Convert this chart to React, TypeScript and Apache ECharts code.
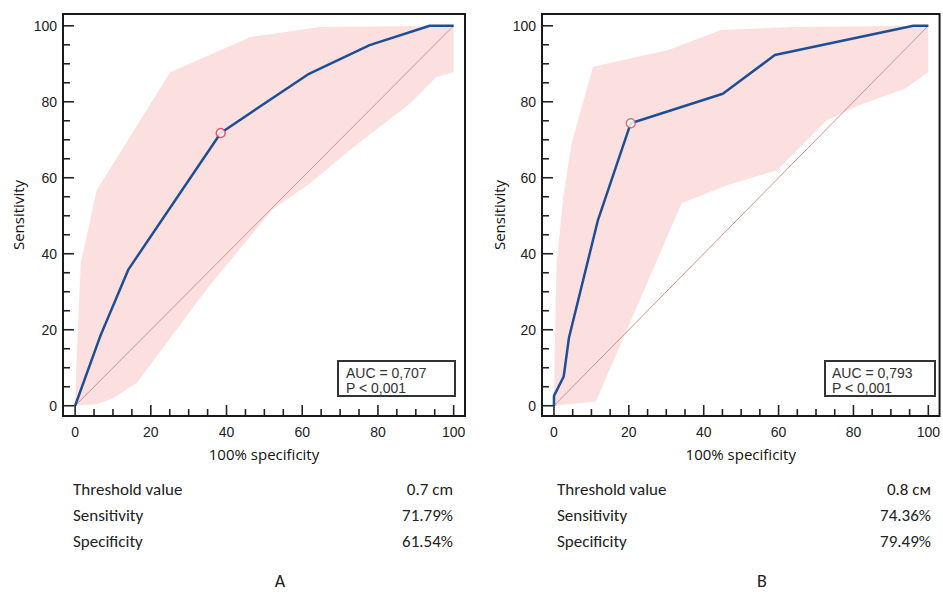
import React, { useEffect, useRef } from "react";
import * as echarts from "echarts";

// ---------- data ----------
const majorTicks = [0, 20, 40, 60, 80, 100];
const minorTicks = [5, 10, 15, 25, 30, 35, 45, 50, 55, 65, 70, 75, 85, 90, 95];

// Panel A (x = 100 - specificity, y = sensitivity)
const rocA: number[][] = [[0, 0], [6.6, 18.2], [14.1, 35.9], [38.46, 71.79], [61.5, 87.2], [77.8, 94.9], [93.7, 100], [100, 100]];
const upperA: number[][] = [[0, 0], [0.3, 10], [1.5, 37.5], [5.7, 56.7], [25.1, 87.8], [46.2, 97.0], [64.6, 99.7], [100, 100]];
const lowerA: number[][] = [[0, 0], [5.7, 0.4], [10, 2], [16.3, 6.0], [35, 31], [52, 51.5], [62, 58.5], [72.6, 67.3], [88.4, 79.5], [95.4, 86.5], [100, 87.8]];
const cutoffA: number[][] = [[38.46, 71.79]];

// Panel B
const rocB: number[][] = [[0, 0], [0, 2.6], [2.6, 7.7], [4, 17.9], [11.7, 48.7], [20.51, 74.36], [45.1, 82.1], [59, 92.3], [96, 100], [100, 100]];
const upperB: number[][] = [[0, 0], [0.3, 20], [0.7, 37.5], [2.5, 55], [4.7, 69], [10.4, 89.2], [30.6, 93.6], [44.6, 98.9], [64, 99.7], [100, 100]];
const lowerB: number[][] = [[0, 0], [11.2, 1.1], [34.1, 53.3], [46.4, 58.1], [59.6, 62.0], [72.8, 75.1], [81.5, 79.1], [93.9, 83.5], [100, 87.8]];
const cutoffB: number[][] = [[20.51, 74.36]];

const diagonal: number[][] = [[0, 0], [100, 100]];

const aucTexts = ["AUC = 0,707\nP < 0,001", "AUC = 0,793\nP < 0,001"];
const tableLabels = ["Threshold value", "Sensitivity", "Specificity"];
const tableA = ["0.7 cm", "71.79%", "61.54%"];
const tableB = ["0.8 см", "74.36%", "79.49%"];
const panelLabels = ["A", "B"];

// ---------- layout ----------
const X_MIN = -3.2, X_MAX = 103;
const Y_MIN = -2.7, Y_MAX = 103.1;
const X_EDGE = -2.95, Y_EDGE = -2.45; // just inside the frame
const grids = [
  { left: 63, top: 14, width: 402, height: 402 },
  { left: 542, top: 14, width: 402, height: 402 },
];
const AXIS_FONT = "'Liberation Sans', Arial, sans-serif";
const NAME_FONT = "'Open Sans', 'Noto Sans', sans-serif";
const TABLE_FONT = "Carlito, Lato, sans-serif";

function buildGraphic(): any[] {
  const graphic: any[] = [];
  const boxes = [
    { x: 338, y: 361, w: 117, h: 35, tx: 346 },
    { x: 825, y: 361, w: 110, h: 35, tx: 832 },
  ];
  boxes.forEach((b, i) => {
    graphic.push({
      type: "rect", z: 50, shape: { x: b.x, y: b.y, width: b.w, height: b.h },
      style: { fill: "#ffffff", stroke: "#333", lineWidth: 2 },
    });
    graphic.push({
      type: "text", z: 51, x: b.tx, y: 380.5,
      style: { text: aucTexts[i], fontFamily: AXIS_FONT, fontSize: 14, lineHeight: 15.5, fill: "#333", align: "left", verticalAlign: "middle", textAlign: "left", textVerticalAlign: "middle" },
    });
  });
  const tables = [
    { lx: 73, rx: 453, vals: tableA, cx: 280 },
    { lx: 557, rx: 931, vals: tableB, cx: 762 },
  ];
  tables.forEach((t, i) => {
    tableLabels.forEach((lab, r) => {
      const y = 489 + r * 26;
      graphic.push({
        type: "text", x: t.lx, y,
        style: { text: lab, fontFamily: TABLE_FONT, fontSize: 17, fill: "#222", align: "left", verticalAlign: "middle", textAlign: "left", textVerticalAlign: "middle" },
      });
      graphic.push({
        type: "text", x: t.rx, y,
        style: { text: t.vals[r], fontFamily: TABLE_FONT, fontSize: 17, fill: "#222", align: "right", verticalAlign: "middle", textAlign: "right", textVerticalAlign: "middle" },
      });
    });
    graphic.push({
      type: "text", x: t.cx, y: 581,
      style: { text: panelLabels[i], fontFamily: TABLE_FONT, fontSize: 18, fill: "#222", align: "center", verticalAlign: "middle", textAlign: "center", textVerticalAlign: "middle" },
    });
  });
  return graphic;
}

function tickSeries(g: number, values: number[], len: number): any[] {
  const common = {
    type: "scatter", xAxisIndex: g, yAxisIndex: g, symbol: "rect", silent: true, clip: false, z: 10,
    itemStyle: { color: "#222", opacity: 1 }, emphasis: { disabled: true },
  };
  return [
    { ...common, data: values.map((v) => [v, Y_EDGE]), symbolSize: [1.6, len], symbolOffset: [0, -len / 2] },
    { ...common, data: values.map((v) => [X_EDGE, v]), symbolSize: [len, 1.6], symbolOffset: [len / 2, 0] },
  ];
}

function buildOption() {
  const xAxis: any[] = [];
  const yAxis: any[] = [];
  grids.forEach((_, g) => {
    xAxis.push({
      type: "value", gridIndex: g, min: X_MIN, max: X_MAX, position: "bottom",
      axisLine: { show: false, onZero: false }, splitLine: { show: false }, axisTick: { show: false },
      axisLabel: { customValues: majorTicks, margin: 9, fontFamily: AXIS_FONT, fontSize: 14, color: "#222" },
      name: "100% specificity", nameLocation: "middle", nameGap: 30,
      nameTextStyle: { fontFamily: NAME_FONT, fontSize: 15, color: "#111" },
    });
    yAxis.push({
      type: "value", gridIndex: g, min: Y_MIN, max: Y_MAX, position: "left",
      axisLine: { show: false, onZero: false }, splitLine: { show: false }, axisTick: { show: false },
      axisLabel: { customValues: majorTicks, margin: 6, fontFamily: AXIS_FONT, fontSize: 14, color: "#222" },
      name: "Sensitivity", nameLocation: "middle", nameGap: g === 0 ? 38 : 36,
      nameTextStyle: { fontFamily: NAME_FONT, fontSize: 15, color: "#111" },
    });
  });

  const panels = [
    { roc: rocA, upper: upperA, lower: lowerA, cut: cutoffA, cutColor: "#e3304a" },
    { roc: rocB, upper: upperB, lower: lowerB, cut: cutoffB, cutColor: "#c95a52" },
  ];
  const series: any[] = [];
  panels.forEach((p, g) => {
    const poly = [...p.upper, ...p.lower.slice().reverse()];
    series.push({
      type: "custom", xAxisIndex: g, yAxisIndex: g, data: poly, silent: true, z: 1,
      renderItem: (params: any, api: any) => {
        if (params.dataIndex !== 0) return null;
        const pts = poly.map((pt) => api.coord(pt));
        return { type: "polygon", shape: { points: pts }, style: { fill: "#fce0df" } };
      },
    });
    series.push({
      type: "line", xAxisIndex: g, yAxisIndex: g, data: diagonal, showSymbol: false, silent: true, z: 2,
      lineStyle: { color: "#c99391", width: 1 },
    });
    series.push({
      type: "line", xAxisIndex: g, yAxisIndex: g, data: p.roc, showSymbol: false, silent: true, z: 3,
      lineStyle: { color: "#1e4f95", width: 2.5 },
    });
    series.push({
      type: "scatter", xAxisIndex: g, yAxisIndex: g, data: p.cut, symbol: "circle", symbolSize: 9, silent: true, z: 4,
      itemStyle: { color: "#ffffff", borderColor: p.cutColor, borderWidth: 1.5 },
    });
    series.push(...tickSeries(g, majorTicks, 10));
    series.push(...tickSeries(g, minorTicks, 6));
  });

  return {
    animation: false,
    backgroundColor: "#ffffff",
    grid: grids.map((g) => ({ ...g, show: true, borderColor: "#1a1a1a", borderWidth: 2, containLabel: false })),
    xAxis,
    yAxis,
    series,
    graphic: buildGraphic(),
  };
}

export default function App() {
  const ref = useRef<HTMLDivElement>(null);
  useEffect(() => {
    if (!ref.current) return;
    const chart = echarts.init(ref.current, null, { renderer: "svg" });
    chart.setOption(buildOption() as any);
    return () => chart.dispose();
  }, []);
  return (
    <div
      ref={ref}
      style={{ position: "absolute", left: 0, top: 0, width: 943, height: 592, background: "#fff" }}
    />
  );
}
